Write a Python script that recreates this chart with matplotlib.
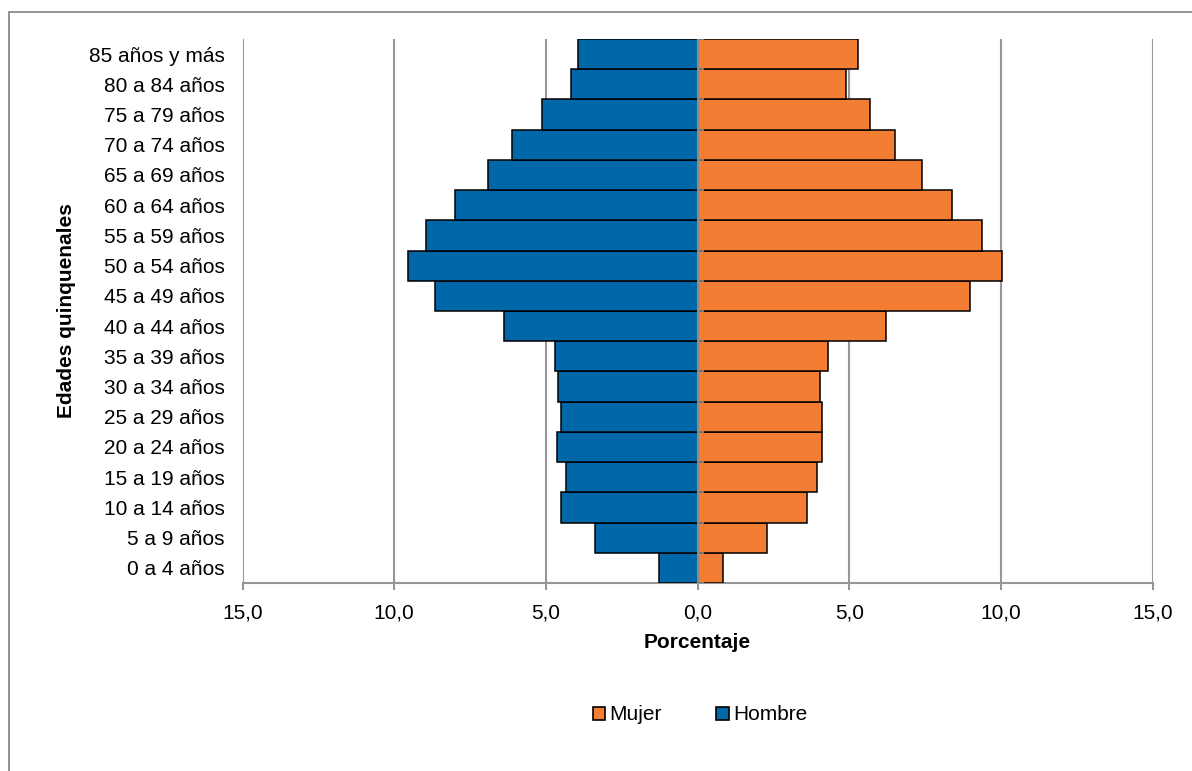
import numpy as np
import matplotlib
matplotlib.use("Agg")
import matplotlib.pyplot as plt
from matplotlib.patches import Rectangle, Patch

plt.rcParams["font.family"] = ["Liberation Sans", "DejaVu Sans"]

# ---- data (bottom to top) ----
ages = [
    "0 a 4 años", "5 a 9 años", "10 a 14 años", "15 a 19 años", "20 a 24 años",
    "25 a 29 años", "30 a 34 años", "35 a 39 años", "40 a 44 años", "45 a 49 años",
    "50 a 54 años", "55 a 59 años", "60 a 64 años", "65 a 69 años", "70 a 74 años",
    "75 a 79 años", "80 a 84 años", "85 años y más",
]
hombre = [1.27, 3.37, 4.51, 4.35, 4.63, 4.49, 4.60, 4.70, 6.37, 8.66,
          9.53, 8.96, 8.01, 6.90, 6.10, 5.14, 4.18, 3.93]
mujer = [0.83, 2.29, 3.61, 3.95, 4.09, 4.11, 4.05, 4.31, 6.21, 8.97,
         10.05, 9.39, 8.40, 7.40, 6.52, 5.70, 4.89, 5.30]
xticks = [-15, -10, -5, 0, 5, 10, 15]

BLUE = "#0068A8"
ORANGE = "#F37D32"
GRID = "#969696"
FS = 15

W, H = 1192, 771
fig = plt.figure(figsize=(W / 100, H / 100), dpi=100)
ax = fig.add_axes([242.5 / W, 1 - 583 / H, 910 / W, 544 / H])

y = np.arange(len(ages))
ax.barh(y, -np.array(hombre), height=1.0, color=BLUE, edgecolor="black",
        linewidth=1.1, zorder=3)
ax.barh(y, mujer, height=1.0, color=ORANGE, edgecolor="black",
        linewidth=1.1, zorder=3)

ax.set_xlim(-15, 15)
ax.set_ylim(-0.5, len(ages) - 0.5)

# vertical gridlines
for xv in xticks:
    if xv != 0:
        ax.axvline(xv, color=GRID, lw=1.5, zorder=1)
# category axis at zero, drawn over the bars with small ticks
ax.axvline(0, color="#8A8A8A", lw=1.5, zorder=4)
ax.hlines(np.arange(len(ages) + 1) - 0.5, 0, 0.2, color="#8A8A8A", lw=1.2, zorder=4)

for s in ["top", "right", "left"]:
    ax.spines[s].set_visible(False)
ax.spines["bottom"].set_color(GRID)
ax.spines["bottom"].set_linewidth(1.5)

ax.set_xticks(xticks)
ax.set_xticklabels([f"{abs(v):.1f}".replace(".", ",") for v in xticks])
ax.tick_params(axis="x", length=5, width=1.5, color=GRID, labelsize=FS, pad=10)

ax.set_yticks(y)
ax.set_yticklabels(ages)
ax.tick_params(axis="y", length=0, labelsize=FS, pad=13)

ax.set_xlabel("Porcentaje", fontsize=FS, fontweight="bold", labelpad=7)
fig.text(67 / W, 1 - 311 / H, "Edades quinquenales", rotation=90, fontsize=FS,
         fontweight="bold", ha="center", va="center")

handles = [Patch(facecolor=ORANGE, edgecolor="black", lw=1.2, label="Mujer"),
           Patch(facecolor=BLUE, edgecolor="black", lw=1.2, label="Hombre")]
fig.legend(handles=handles, loc="center", bbox_to_anchor=(700 / W, 1 - 715 / H),
           ncol=2, frameon=False, fontsize=FS, handlelength=0.6, handleheight=0.6,
           handletextpad=0.2, columnspacing=2.6)

# outer chart frame
fig.add_artist(Rectangle((8.5 / W, -0.05), 1.1, 1 - 12 / H + 0.05,
                         transform=fig.transFigure, fill=False,
                         edgecolor="#8A8A8A", lw=1.3))

fig.savefig("out.png", dpi=100)
